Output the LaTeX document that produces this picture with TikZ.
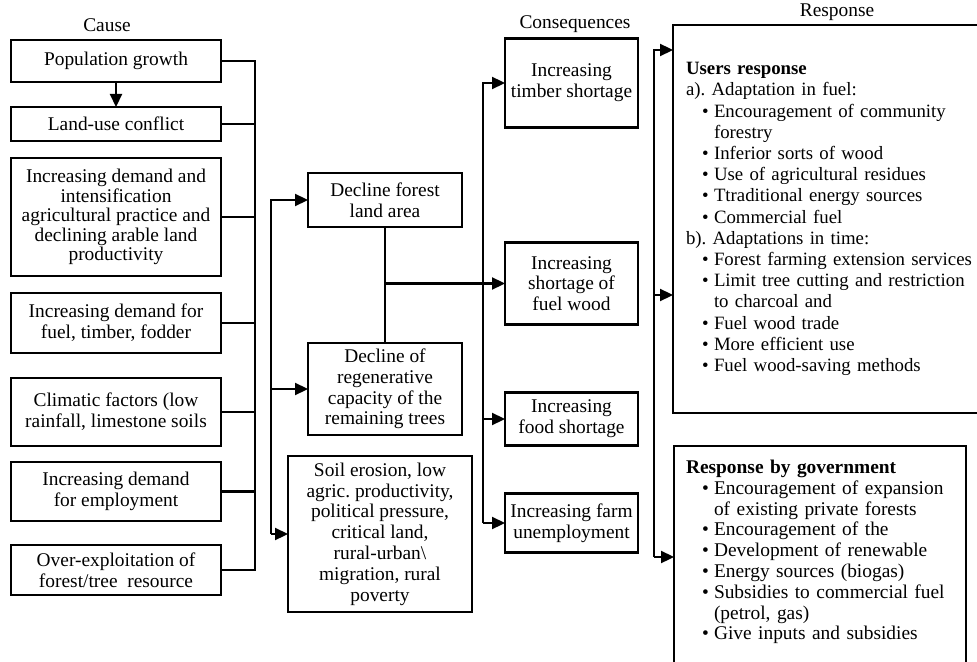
\documentclass[tikz,border=0pt]{standalone}
\usepackage{fontspec}
\setmainfont{Liberation Serif}
\usepackage{tikz}
\usetikzlibrary{positioning, arrows.meta}

\frenchspacing
\newcommand{\boxfont}{\fontsize{9.7}{10.4}\selectfont}
\newcommand{\tightfont}{\fontsize{9.7}{9.8}\selectfont}
\newcommand{\respfont}{\fontsize{9.4}{10.6}\selectfont}
\newcommand{\bul}{\hspace*{8pt}\makebox[6pt][l]{\textbullet}}
\newcommand{\cont}{\hspace*{14pt}}

\begin{document}
\begin{tikzpicture}[
    x=0.5pt, y=-0.5pt,
    node distance=10pt,
    box/.style={rectangle, draw, line width=1.1pt, align=center, inner sep=2pt, outer sep=0pt, font=\boxfont},
    causebox/.style={box, minimum width=105pt},
    midbox/.style={box, minimum width=77pt},
    conbox/.style={box, minimum width=66.5pt},
    respbox/.style={rectangle, draw, line width=1.1pt, align=left, anchor=north west, inner xsep=6.5pt, inner ysep=0pt, outer sep=0pt, text width=150pt, font=\respfont},
    title/.style={font=\boxfont, inner sep=1pt},
    arrow/.style={-{Triangle[length=6.5pt, width=6pt]}, line width=1.1pt},
    line/.style={line width=1.1pt},
]
\useasboundingbox (0,0) rectangle (977,662);

%% NODES
    % causes
    \node[title] (causetitle) at (107,25) {Cause};
    \node[causebox, minimum height=21pt] (pop) at (116,61) {Population growth};
    \node[causebox, minimum height=17pt, below=12.5pt of pop] (landuse) {Land-use conflict};
    \node[causebox, minimum height=59pt, below=8.5pt of landuse, font=\tightfont] (agri) {Increasing demand and\\ intensification\\ agricultural practice and\\ declining arable land\\ productivity};
    \node[causebox, minimum height=30pt, below=8.5pt of agri] (fueldemand) {Increasing demand for\\ fuel, timber, fodder};
    \node[causebox, minimum height=34pt, below=12.5pt of fueldemand] (climate) {Climatic factors (low\\ rainfall, limestone soils};
    \node[causebox, minimum height=29.5pt, below=8pt of climate] (employ) {Increasing demand\\ for employment};
    \node[causebox, minimum height=25pt, below=12pt of employ] (overexp) {Over-exploitation of\\ forest/tree\ \ resource};

    % effects on the forest
    \node[midbox, minimum height=27pt] (forest) at (385,200) {Decline forest\\ land area};
    \node[midbox, minimum height=46pt, below=58pt of forest] (regen) {Decline of\\ regenerative\\ capacity of the\\ remaining trees};
    \node[box, minimum width=92pt, minimum height=78pt, below=10.5pt of regen, xshift=-2.5pt] (soil) {Soil erosion, low\\ agric. productivity,\\ political pressure,\\ critical land,\\ rural-urban\textbackslash\\ migration, rural\\ poverty};

    % consequences
    \node[title] (contitle) at (575,24) {Consequences};
    \node[conbox, minimum height=44.5pt] (timber) at (571.5,83) {Increasing\\ timber shortage};
    \node[conbox, minimum height=41pt, below=57.5pt of timber] (fuelwood) {Increasing\\ shortage of\\ fuel wood};
    \node[conbox, minimum height=26.5pt, below=34pt of fuelwood] (food) {Increasing\\ food shortage};
    \node[conbox, minimum height=29.5pt, below=24pt of food] (unemp) {Increasing farm\\ unemployment};

    % responses
    \node[title] (resptitle) at (837,12) {Response};
    \node[respbox, minimum height=194pt] (users) at (673,25) {\textbf{Users response}\\
        a). Adaptation in fuel:\\
        \bul Encouragement of community\\
        \cont forestry\\
        \bul Inferior sorts of wood\\
        \bul Use of agricultural residues\\
        \bul Ttraditional energy sources\\
        \bul Commercial fuel\\
        b). Adaptations in time:\\
        \bul Forest farming extension services\\
        \bul Limit tree cutting and restriction\\
        \cont to charcoal and\\
        \bul Fuel wood trade\\
        \bul More efficient use\\
        \bul Fuel wood-saving methods};
    \node[respbox, text width=134pt, inner xsep=6pt, inner ysep=7pt, text depth=112pt, font=\boxfont] (gov) at (674,446) {\textbf{Response by government}\\
        \bul Encouragement of expansion\\
        \cont of existing private forests\\
        \bul Encouragement of the\\
        \bul Development of renewable\\
        \bul Energy sources (biogas)\\
        \bul Subsidies to commercial fuel\\
        \cont (petrol, gas)\\
        \bul Give inputs and subsidies};

    % bus lines
    \coordinate (causebus) at (255,0);
    \coordinate (midbus) at (271,0);
    \coordinate (conbus) at (483,0);
    \coordinate (r1) at (654,50);
    \coordinate (r2) at (654,295);
    \coordinate (r3) at (654,557);

%% CONNECTIONS
    % causes -> bus
    \draw[arrow] (pop) -- (landuse);
    \draw[line] (pop.east) -- (pop.east -| causebus) -- (overexp.east -| causebus) -- (overexp.east);
    \foreach \n in {landuse, agri, fueldemand, climate, employ}
        \draw[line] (\n.east) -- (\n.east -| causebus);

    % bus -> forest effects
    \draw[arrow] (soil.west -| midbus) |- (forest.west);
    \draw[arrow] (regen.west -| midbus) -- (regen.west);
    \draw[arrow] (soil.west -| midbus) -- (soil.west);

    % forest effects -> consequences
    \draw[line] (forest.south) -- (regen.north);
    \draw[arrow] (forest.south |- fuelwood.west) -- (fuelwood.west);
    \draw[arrow] (unemp.west -| conbus) |- (timber.west);
    \draw[arrow] (food.west -| conbus) -- (food.west);
    \draw[arrow] (unemp.west -| conbus) -- (unemp.west);

    % bus -> responses
    \draw[arrow] (r3) |- (users.west |- r1);
    \draw[arrow] (r2) -- (users.west |- r2);
    \draw[arrow] (r3) -- (gov.west |- r3);

\end{tikzpicture}
\end{document}
